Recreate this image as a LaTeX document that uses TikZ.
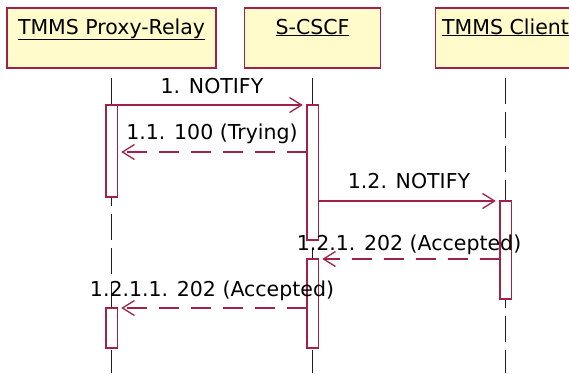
\documentclass[tikz,border=0pt]{standalone}
\usepackage{fontspec}
\setmainfont{DejaVu Sans}
\usetikzlibrary{arrows.meta}
\definecolor{cred}{HTML}{A02248}
\definecolor{cyellow}{HTML}{FFFBCA}
\definecolor{cdark}{HTML}{1E1E1E}
\tikzset{
  every picture/.style={font=\fontsize{20.5}{24}\selectfont, line width=1.3pt},
  actor/.style={draw=cred, fill=cyellow, anchor=north, inner xsep=4pt, inner ysep=8pt, outer sep=0pt,
    line width=1.6pt, text height=18pt, text depth=26pt},
  lifeline/.style={draw=cdark, line width=1.7pt, dash pattern=on 26pt off 8pt},
  act/.style={draw=cred, fill=white, anchor=north, minimum width=11.5pt, inner sep=0pt, outer sep=0pt, line width=1.5pt},
  msg/.style={draw=cred, shorten >=4pt, -{Straight Barb[length=12pt, width=15pt, line width=1.3pt]}},
  reply/.style={msg, dash pattern=on 20pt off 12pt},
  lbl/.style={midway, anchor=base, text=black, inner sep=0pt, yshift=#1},
  lbl/.default=12pt,
}

\begin{document}
\begin{tikzpicture}[x=1pt, y=-1pt]
  \useasboundingbox (0,0) rectangle (569,373);
  \clip (0,0) rectangle (569,373);

  % actors
  \node[actor, minimum width=209pt] (relay) at (111.5,8) {\underline{TMMS Proxy-Relay}};
  \node[actor, minimum width=136pt] (cscf)  at (312.5,8) {\underline{S-CSCF}};
  \node[actor, minimum width=140pt] (client) at (505.5,8) {\underline{TMMS Client}};

  % lifelines
  \foreach \a in {relay, cscf, client}
    \draw[lifeline] ([yshift=-10pt]\a.south) -- (\a.south |- 0,373);

  % activations
  \node[act, minimum height=92pt] (r1) at (111.5,105) {};
  \node[act, minimum height=40pt] (r2) at (111.5,308) {};
  \node[act, minimum height=135pt] (s1) at (312.5,105) {};
  \node[act, minimum height=89pt] (s2) at (312.5,259) {};
  \node[act, minimum height=98pt] (c1) at (505.5,201) {};

  % messages
  \draw[msg]   (r1.north east) -- (s1.north west) node[lbl] {1. NOTIFY};
  \draw[reply] (s1.west |- 0,152) -- (r1.east |- 0,152) node[lbl=13pt] {1.1. 100 (Trying)};
  \draw[msg]   (s1.east |- c1.north) -- (c1.north west) node[lbl=13pt] {1.2. NOTIFY};
  \draw[reply] (c1.west |- s2.north) -- (s2.north east) node[lbl=9pt] {1.2.1. 202 (Accepted)};
  \draw[reply] (s2.west |- r2.north) -- (r2.north east) node[lbl] {1.2.1.1. 202 (Accepted)};
\end{tikzpicture}
\end{document}
